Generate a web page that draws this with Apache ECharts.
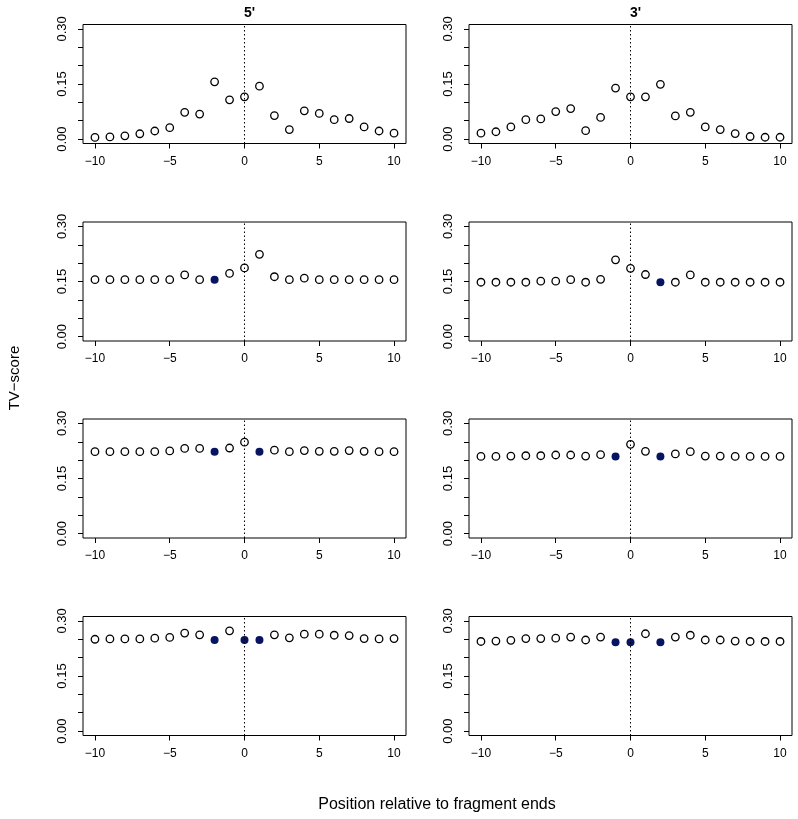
<!DOCTYPE html>
<html>
<head>
<meta charset="UTF-8">
<title>TV-score</title>
<script type="text/javascript" src="https://cdn.jsdelivr.net/npm/echarts@6/dist/echarts.min.js"></script>
<style>
  body{margin:0;background:#fff}
</style>
</head>
<body>
<div id="main" style="width:798px;height:819px"></div>
<script type="text/javascript">
// positions relative to the fragment end
var positions = [-10, -9, -8, -7, -6, -5, -4, -3, -2, -1, 0, 1, 2, 3, 4, 5, 6, 7, 8, 9, 10];

// TV-score per panel, 5' left column, 3' right column
var tv5Row1 = [0.0045, 0.006, 0.009, 0.0145, 0.022, 0.031, 0.073, 0.068, 0.156, 0.107, 0.115, 0.144, 0.064, 0.026, 0.077, 0.070, 0.053, 0.056, 0.033, 0.022, 0.016];
var tv3Row1 = [0.016, 0.020, 0.033, 0.053, 0.055, 0.075, 0.083, 0.023, 0.059, 0.139, 0.115, 0.115, 0.149, 0.063, 0.073, 0.033, 0.026, 0.015, 0.007, 0.005, 0.005];
var tv5Row2 = [0.155, 0.155, 0.155, 0.155, 0.155, 0.155, 0.168, 0.155, 0.155, 0.172, 0.187, 0.224, 0.163, 0.155, 0.159, 0.155, 0.155, 0.155, 0.155, 0.155, 0.155];
var tv3Row2 = [0.148, 0.148, 0.148, 0.148, 0.151, 0.151, 0.155, 0.148, 0.156, 0.209, 0.186, 0.169, 0.148, 0.148, 0.168, 0.148, 0.148, 0.148, 0.148, 0.148, 0.148];
var tv5Row3 = [0.223, 0.223, 0.223, 0.223, 0.223, 0.225, 0.232, 0.232, 0.223, 0.233, 0.249, 0.223, 0.227, 0.223, 0.226, 0.224, 0.224, 0.226, 0.224, 0.223, 0.223];
var tv3Row3 = [0.210, 0.210, 0.211, 0.212, 0.212, 0.214, 0.214, 0.211, 0.215, 0.210, 0.243, 0.224, 0.210, 0.217, 0.223, 0.211, 0.211, 0.210, 0.210, 0.210, 0.210];
var tv5Row4 = [0.250, 0.251, 0.251, 0.251, 0.253, 0.255, 0.267, 0.262, 0.248, 0.273, 0.248, 0.248, 0.262, 0.254, 0.264, 0.264, 0.261, 0.260, 0.252, 0.251, 0.252];
var tv3Row4 = [0.244, 0.245, 0.247, 0.252, 0.252, 0.253, 0.256, 0.248, 0.256, 0.242, 0.242, 0.265, 0.242, 0.256, 0.261, 0.248, 0.248, 0.245, 0.244, 0.244, 0.244];

// positions drawn as filled points
var filled5Row1 = [];
var filled3Row1 = [];
var filled5Row2 = [-2];
var filled3Row2 = [2];
var filled5Row3 = [-2, 1];
var filled3Row3 = [-1, 2];
var filled5Row4 = [-2, 0, 1];
var filled3Row4 = [-1, 0, 2];

// axis ticks and labels
var xTicks = [-10, -5, 0, 5, 10];
var yTicks = [0, 0.05, 0.10, 0.15, 0.20, 0.25, 0.30];
var yLabels = [0, 0.15, 0.30];
var colTitles = ["5'", "3'"];

var panels = [
  [tv5Row1, filled5Row1], [tv3Row1, filled3Row1],
  [tv5Row2, filled5Row2], [tv3Row2, filled3Row2],
  [tv5Row3, filled5Row3], [tv3Row3, filled3Row3],
  [tv5Row4, filled5Row4], [tv3Row4, filled3Row4]
];

var font = 'Liberation Sans, Arial, Helvetica, sans-serif';
var colLeft = [83, 469];
var rowTop = [24.5, 222, 419, 616.5];
var boxW = 323, boxH = 119;

var grids = [], xAxes = [], yAxes = [], series = [];
panels.forEach(function (p, i) {
  var row = Math.floor(i / 2), col = i % 2;
  grids.push({
    left: colLeft[col], top: rowTop[row], width: boxW, height: boxH,
    show: true, borderColor: '#000', borderWidth: 1, backgroundColor: 'transparent'
  });
  xAxes.push({
    type: 'value', gridIndex: i, min: -10.8, max: 10.8, position: 'bottom',
    axisLine: {show: false, onZero: false}, splitLine: {show: false},
    axisTick: {show: true, customValues: xTicks, length: 5, lineStyle: {color: '#000'}},
    axisLabel: {
      customValues: xTicks, margin: 12, color: '#000', fontSize: 12, fontFamily: font,
      formatter: function (v) { return String(v).replace('-', '\u2212'); }
    }
  });
  yAxes.push({
    type: 'value', gridIndex: i, min: -0.012, max: 0.312, position: 'left',
    axisLine: {show: false, onZero: false}, splitLine: {show: false},
    axisTick: {show: true, customValues: yTicks, length: 5, lineStyle: {color: '#000'}},
    axisLabel: {
      customValues: yLabels, rotate: 90, margin: 14, color: '#000', fontSize: 13,
      fontFamily: 'Liberation Sans Narrow, ' + font,
      formatter: function (v) { return v.toFixed(2); }
    }
  });
  var vals = p[0], fill = p[1];
  var open = [], solid = [];
  positions.forEach(function (x, k) {
    if (fill.indexOf(x) >= 0) solid.push([x, vals[k]]);
    else open.push([x, vals[k]]);
  });
  series.push({
    type: 'scatter', xAxisIndex: i, yAxisIndex: i, data: open,
    symbol: 'circle', symbolSize: 7.5,
    itemStyle: {color: '#fff', borderColor: '#000', borderWidth: 1.3, opacity: 1},
    markLine: {
      silent: true, symbol: 'none', label: {show: false},
      lineStyle: {color: '#000', type: [1.5, 2.5], width: 1},
      data: [{xAxis: 0}]
    },
    z: 3
  });
  series.push({
    type: 'scatter', xAxisIndex: i, yAxisIndex: i, data: solid,
    symbol: 'circle', symbolSize: 8,
    itemStyle: {color: '#061462', opacity: 1},
    z: 4
  });
});

var titles = colTitles.map(function (t, c) {
  return {
    text: t, left: colLeft[c] + boxW / 2, top: 1, textAlign: 'center',
    textStyle: {fontSize: 14, fontWeight: 'bold', color: '#000', fontFamily: font}
  };
});

var myChart = echarts.init(document.getElementById('main'));
myChart.setOption({
  animation: false,
  backgroundColor: '#fff',
  title: titles,
  grid: grids,
  xAxis: xAxes,
  yAxis: yAxes,
  series: series,
  graphic: [
    {type: 'text', x: 15, y: 378, rotation: Math.PI / 2,
     style: {text: 'TV\u2212score', fontSize: 15, fontFamily: font, fill: '#000',
             textAlign: 'center', textVerticalAlign: 'middle'}},
    {type: 'text', x: 437, y: 805,
     style: {text: 'Position relative to fragment ends', fontSize: 16, fontFamily: font, fill: '#000',
             textAlign: 'center', textVerticalAlign: 'middle'}}
  ]
});
</script>
</body>
</html>
